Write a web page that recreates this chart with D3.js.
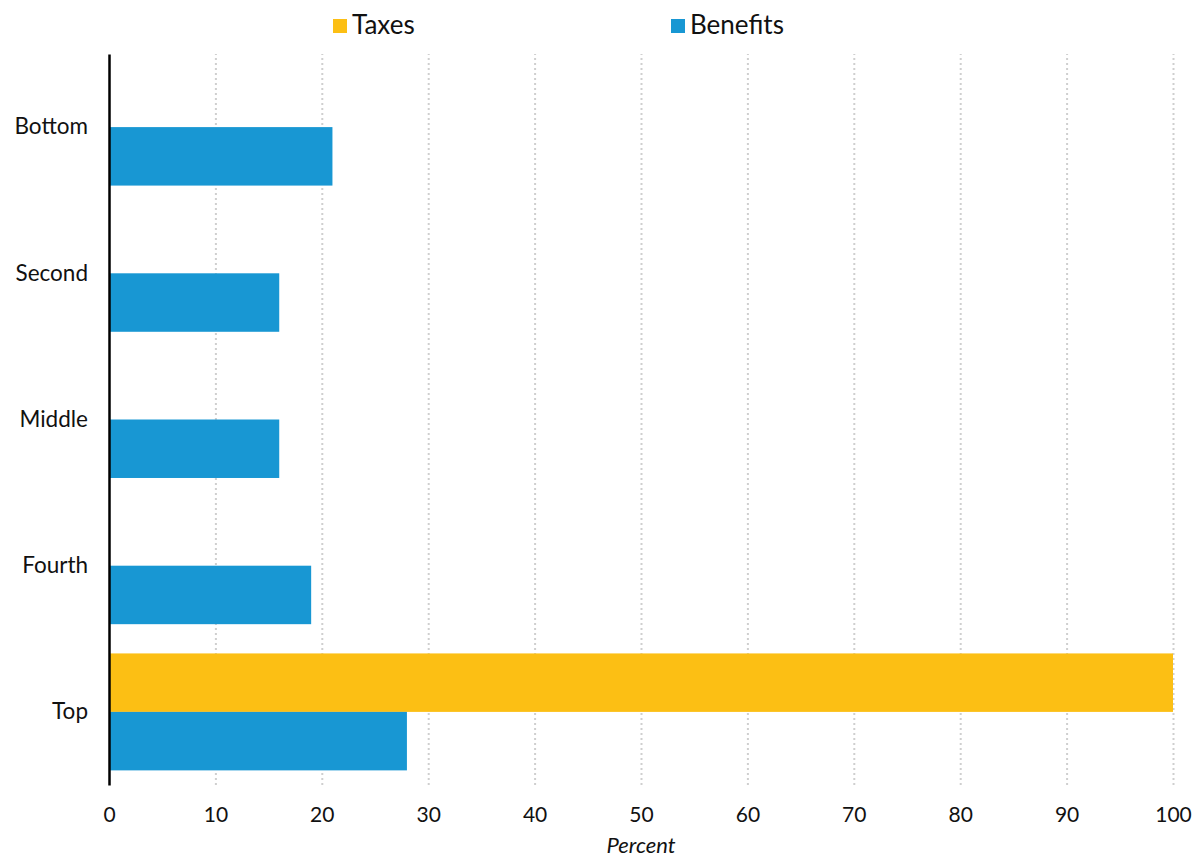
<!DOCTYPE html>
<html>
<head>
<meta charset="utf-8">
<script src="https://cdn.jsdelivr.net/npm/d3@7"></script>
<style>
  body { margin: 0; background: #fff; font-family: Lato, "Open Sans", sans-serif; }
  .grid line { stroke: #cfcfcf; stroke-dasharray: 2,3; stroke-width: 2; }
  .grid path { display: none; }
</style>
</head>
<body>
<div id="chart"></div>
<script>
var categories = ["Bottom", "Second", "Middle", "Fourth", "Top"];
var seriesNames = ["Taxes", "Benefits"];
var taxes = [0, 0, 0, 0, 100];
var benefits = [21, 16, 16, 19, 28];
var xTicks = [0, 10, 20, 30, 40, 50, 60, 70, 80, 90, 100];
var colors = ["#fcbf14", "#1897d3"];

var svgWidth = 1195;
var svgHeight = 856;
var margin = { top: 54, right: 22, bottom: 71, left: 109 };
var width = svgWidth - margin.left - margin.right;
var height = svgHeight - margin.top - margin.bottom;

var svg = d3.select("#chart").append("svg")
  .attr("width", svgWidth)
  .attr("height", svgHeight);

var chartGroup = svg.append("g")
  .attr("transform", `translate(${margin.left}, ${margin.top})`);

var data = categories.map(function(c, i) {
  return { cat: c, values: [taxes[i], benefits[i]] };
});

var xScale = d3.scaleLinear().domain([0, 100]).range([0, width]);
var yScale = d3.scaleBand().domain(categories).range([0, height])
  .paddingInner(0.2).paddingOuter(0.1);
var ySub = d3.scaleBand().domain([0, 1]).range([0, yScale.bandwidth()]);

// gridlines
chartGroup.append("g")
  .attr("class", "grid")
  .attr("transform", `translate(0, ${height})`)
  .call(d3.axisBottom(xScale).tickValues(xTicks.slice(1)).tickSize(-height).tickFormat(""));

// bars
var groups = chartGroup.selectAll(".cat")
  .data(data)
  .enter()
  .append("g")
  .attr("transform", d => `translate(0, ${yScale(d.cat)})`);

groups.selectAll("rect")
  .data(d => d.values.map((v, i) => ({ v: v, i: i })))
  .enter()
  .append("rect")
  .attr("x", 0)
  .attr("y", d => ySub(d.i))
  .attr("width", d => xScale(d.v))
  .attr("height", ySub.bandwidth())
  .attr("fill", d => colors[d.i]);

// x axis labels
var bottomAxis = d3.axisBottom(xScale).tickValues(xTicks).tickSize(0).tickPadding(22);
var xAxis = chartGroup.append("g")
  .attr("transform", `translate(0, ${height})`)
  .call(bottomAxis);
xAxis.select(".domain").remove();
xAxis.selectAll("text")
  .style("font-family", "Lato, sans-serif")
  .style("font-size", "21px")
  .style("fill", "#111");

// y axis
var leftAxis = d3.axisLeft(yScale).tickSize(0).tickPadding(21);
var yAxis = chartGroup.append("g").call(leftAxis);
yAxis.select(".domain").attr("stroke", "#000").attr("stroke-width", 2.5);
yAxis.selectAll("text")
  .style("font-family", "Lato, sans-serif")
  .style("font-size", "22.5px")
  .style("fill", "#111");

// axis title
svg.append("text")
  .attr("x", margin.left + xScale(50))
  .attr("y", 853)
  .attr("text-anchor", "middle")
  .style("font-family", "Lato, sans-serif")
  .style("font-style", "italic")
  .style("font-size", "22px")
  .style("fill", "#111")
  .text("Percent");

// legend
var legendX = [333, 671];
seriesNames.forEach(function(name, i) {
  svg.append("rect")
    .attr("x", legendX[i])
    .attr("y", 19)
    .attr("width", 14)
    .attr("height", 14)
    .attr("fill", colors[i]);
  svg.append("text")
    .attr("x", legendX[i] + 19)
    .attr("y", 34)
    .style("font-family", "Lato, sans-serif")
    .style("font-size", "26px")
    .style("fill", "#111")
    .text(name);
});
</script>
</body>
</html>
